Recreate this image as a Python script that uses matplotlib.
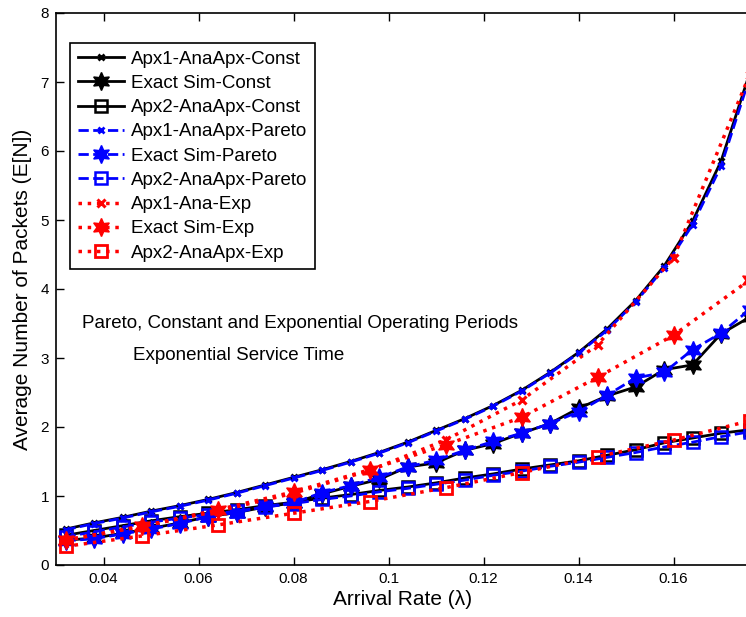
import matplotlib
matplotlib.use("Agg")
import matplotlib.pyplot as plt
import numpy as np

plt.rcParams['font.family'] = ['Liberation Sans', 'DejaVu Sans']

# x grids
lam_fine = [0.032, 0.038, 0.044, 0.050, 0.056, 0.062, 0.068, 0.074, 0.080, 0.086,
            0.092, 0.098, 0.104, 0.110, 0.116, 0.122, 0.128, 0.134, 0.140, 0.146,
            0.152, 0.158, 0.164, 0.170, 0.176]
lam_coarse = [0.032, 0.048, 0.064, 0.080, 0.096, 0.112, 0.128, 0.144, 0.160, 0.176]

apx1_const = [0.52, 0.61, 0.69, 0.78, 0.86, 0.95, 1.05, 1.16, 1.27, 1.38, 1.50, 1.63, 1.78,
              1.95, 2.12, 2.31, 2.53, 2.79, 3.08, 3.42, 3.83, 4.33, 4.98, 5.85, 7.12]
exact_const = [0.36, 0.39, 0.46, 0.53, 0.61, 0.70, 0.76, 0.84, 0.90, 1.03, 1.14, 1.24, 1.42,
               1.48, 1.66, 1.76, 1.91, 2.05, 2.27, 2.45, 2.58, 2.83, 2.90, 3.35, 3.59]
apx2_const = [0.43, 0.50, 0.57, 0.64, 0.70, 0.75, 0.80, 0.86, 0.91, 0.97, 1.02, 1.08, 1.13,
              1.19, 1.26, 1.32, 1.39, 1.45, 1.51, 1.59, 1.67, 1.77, 1.84, 1.91, 1.96]

apx1_pareto = [0.51, 0.60, 0.68, 0.77, 0.85, 0.94, 1.04, 1.15, 1.26, 1.37, 1.49, 1.62, 1.77,
               1.94, 2.11, 2.30, 2.52, 2.78, 3.07, 3.40, 3.81, 4.30, 4.93, 5.78, 7.06]
exact_pareto = [0.35, 0.38, 0.45, 0.52, 0.60, 0.70, 0.76, 0.85, 0.90, 1.05, 1.15, 1.27, 1.42,
                1.52, 1.66, 1.79, 1.91, 2.05, 2.22, 2.46, 2.71, 2.79, 3.12, 3.36, 3.70]
apx2_pareto = [0.41, 0.48, 0.55, 0.62, 0.68, 0.73, 0.78, 0.84, 0.89, 0.95, 1.00, 1.06, 1.11,
               1.17, 1.23, 1.30, 1.36, 1.43, 1.49, 1.56, 1.63, 1.71, 1.78, 1.86, 1.93]

apx1_exp = [0.36, 0.56, 0.78, 1.04, 1.37, 1.81, 2.39, 3.19, 4.45, 7.10]
exact_exp = [0.36, 0.56, 0.80, 1.06, 1.38, 1.74, 2.14, 2.72, 3.33, 4.13]
apx2_exp = [0.27, 0.42, 0.58, 0.75, 0.92, 1.12, 1.34, 1.57, 1.81, 2.09]

labels = ["Apx1-AnaApx-Const", "Exact Sim-Const", "Apx2-AnaApx-Const",
          "Apx1-AnaApx-Pareto", "Exact Sim-Pareto", "Apx2-AnaApx-Pareto",
          "Apx1-Ana-Exp", "Exact Sim-Exp", "Apx2-AnaApx-Exp"]
xticks = [0.04, 0.06, 0.08, 0.10, 0.12, 0.14, 0.16]
xticklabels = ["0.04", "0.06", "0.08", "0.1", "0.12", "0.14", "0.16"]
yticks = [0, 1, 2, 3, 4, 5, 6, 7, 8]

W, H = 746, 617
fig = plt.figure(figsize=(W / 100, H / 100), dpi=100)
ax = fig.add_axes([56 / W, 52 / H, 693.5 / W, 552 / H])

hexa = (6, 1, 0)
lw = 2.0
series = [
    (lam_fine, apx1_const, dict(color='black', ls='-', marker='x', ms=5, mew=2)),
    (lam_fine, exact_const, dict(color='black', ls='-', marker=hexa, ms=13)),
    (lam_fine, apx2_const, dict(color='black', ls='-', marker='s', ms=8, mfc='none', mew=1.8)),
    (lam_fine, apx1_pareto, dict(color='blue', ls='--', marker='x', ms=5, mew=2)),
    (lam_fine, exact_pareto, dict(color='blue', ls='--', marker=hexa, ms=13)),
    (lam_fine, apx2_pareto, dict(color='blue', ls='--', marker='s', ms=8, mfc='none', mew=1.8)),
    (lam_coarse, apx1_exp, dict(color='red', ls=':', marker='x', ms=6, mew=2.2)),
    (lam_coarse, exact_exp, dict(color='red', ls=':', marker=hexa, ms=13)),
    (lam_coarse, apx2_exp, dict(color='red', ls=':', marker='s', ms=8, mfc='none', mew=2)),
]
for (xs, ys, st), lab in zip(series, labels):
    kw = dict(st)
    ls = kw.pop('ls')
    ax.plot(xs, ys, linestyle=ls, lw=2.5 if ls == ':' else lw, label=lab,
            clip_on=True, **kw)

ax.set_xlim(0.03, 0.176)
ax.set_ylim(0, 8)
ax.set_xticks(xticks)
ax.set_xticklabels(xticklabels)
ax.set_yticks(yticks)
ax.tick_params(direction='in', length=6, labelsize=11, top=True, right=False,
               width=1, pad=5)
for s in ax.spines.values():
    s.set_linewidth(1.2)

ax.set_xlabel("Arrival Rate (\u03bb)", fontsize=15, labelpad=3)
ax.set_ylabel("Average Number of Packets (E[N])", fontsize=15, labelpad=6)

ax.text(0.0354, 3.5, "Pareto, Constant and Exponential Operating Periods",
        fontsize=13.5, ha='left', va='center')
ax.text(0.0463, 3.03, "Exponential Service Time", fontsize=13.5, ha='left', va='center')

leg = ax.legend(loc='upper left', bbox_to_anchor=(14 / 693.5, 1 - 30 / 552),
                fontsize=13.5, handlelength=2.5, labelspacing=0.38, borderpad=0.4,
                handletextpad=0.37, borderaxespad=0, fancybox=False,
                edgecolor='black', framealpha=1)
leg.get_frame().set_linewidth(1.2)

fig.savefig("out.png", dpi=100)
